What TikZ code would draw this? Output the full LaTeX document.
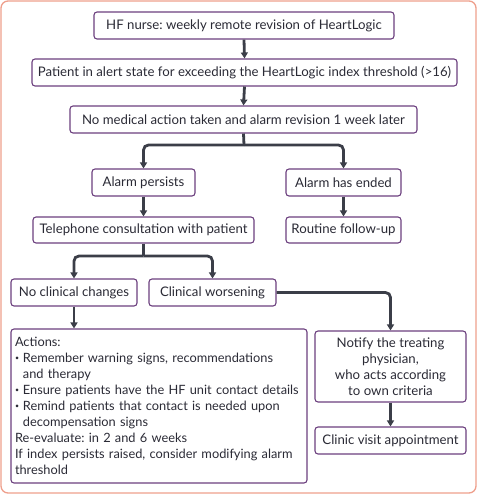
\documentclass[tikz,border=0pt]{standalone}
\usepackage{graphicx}
\usepackage{fontspec}
\setmainfont{Lato}
\usetikzlibrary{arrows.meta}
\definecolor{frame}{HTML}{EE9F8C}
\definecolor{boxc}{HTML}{6B3F7E}
\definecolor{arrc}{HTML}{3B3E48}
\definecolor{txt}{HTML}{2A2A35}
\newcommand{\bul}{\makebox[0.62em][l]{\raisebox{0.28ex}{\scalebox{0.55}{\textbullet}}}}
\tikzset{
  box/.style={draw=boxc, line width=1.1pt, rounded corners=3pt, inner sep=0pt, text=txt,
    font=\fontsize{13.2}{16}\selectfont\frenchspacing, align=center},
  conn/.style={draw=arrc, line width=2.8pt},
  arr/.style={conn, -{Triangle[length=6pt,width=7pt]}},
}
\begin{document}
\begin{tikzpicture}[x=1pt,y=-1pt]
\useasboundingbox (0,0) rectangle (477,495);
\draw[frame, line width=1.3pt, rounded corners=7pt] (1,1) rectangle (476,493);

\node[box, minimum width=300, minimum height=27] (b1) at (244,25.5) {HF nurse: weekly remote revision of HeartLogic};
\node[box, minimum width=425, minimum height=27] (b2) at (244.5,72.5) {Patient in alert state for exceeding the HeartLogic index threshold (>16)};
\node[box, minimum width=347, minimum height=27] (b3) at (243.5,119.5) {No medical action taken and alarm revision 1 week later};
\node[box, minimum width=103, minimum height=27] (persist) at (143.5,182.5) {Alarm persists};
\node[box, minimum width=115, minimum height=27] (ended) at (343.5,182.5) {Alarm has ended};
\node[box, minimum width=221, minimum height=26] (tel) at (143.5,230) {Telephone consultation with patient};
\node[box, minimum width=115, minimum height=26] (routine) at (343.5,230) {Routine follow-up};
\node[box, minimum width=126, minimum height=27] (nochange) at (74,292.5) {No clinical changes};
\node[box, minimum width=127, minimum height=27] (worse) at (212.5,292.5) {Clinical worsening};
\node[box, minimum width=296, minimum height=154, text width=288, align=left,
  font=\fontsize{12.8}{16}\selectfont\frenchspacing] (actions) at (159,406) {\hyphenpenalty=10000\relax Actions:\\
\bul Remember warning signs, recommendations\\
\hspace*{0.62em}and therapy\\
\bul Ensure patients have the HF unit contact details\\
\bul Remind patients that contact is needed upon\\
\hspace*{0.62em}decompensation signs\\
Re-evaluate: in 2 and 6 weeks\\
If index persists raised, consider modifying alarm\\
threshold};
\node[box, minimum width=151, minimum height=71] (notify) at (390.5,366.5) {Notify the treating\\physician,\\who acts according\\to own criteria};
\node[box, minimum width=151, minimum height=27] (clinic) at (390.5,440.5) {Clinic visit appointment};

\draw[arr] (b1.south) -- (b2.north);
\draw[arr] (b2.south) -- (b3.north);
\coordinate (j1) at (244,145);
\draw[conn] (b3.south) -- (j1);
\draw[arr, rounded corners=5pt] (j1) -| (persist.north);
\draw[arr, rounded corners=5pt] (j1) -| (ended.north);
\draw[arr] (persist.south) -- (tel.north);
\draw[arr] (ended.south) -- (routine.north);
\coordinate (j2) at (143.5,256);
\draw[conn] (tel.south) -- (j2);
\draw[arr, rounded corners=5pt] (j2) -| (nochange.north);
\draw[arr, rounded corners=5pt] (j2) -| (worse.north);
\draw[arr] (nochange.south) -- (nochange.south |- actions.north);
\draw[arr, rounded corners=5pt] (worse.east) -| (notify.north);
\draw[arr] (notify.south) -- (clinic.north);
\end{tikzpicture}
\end{document}
